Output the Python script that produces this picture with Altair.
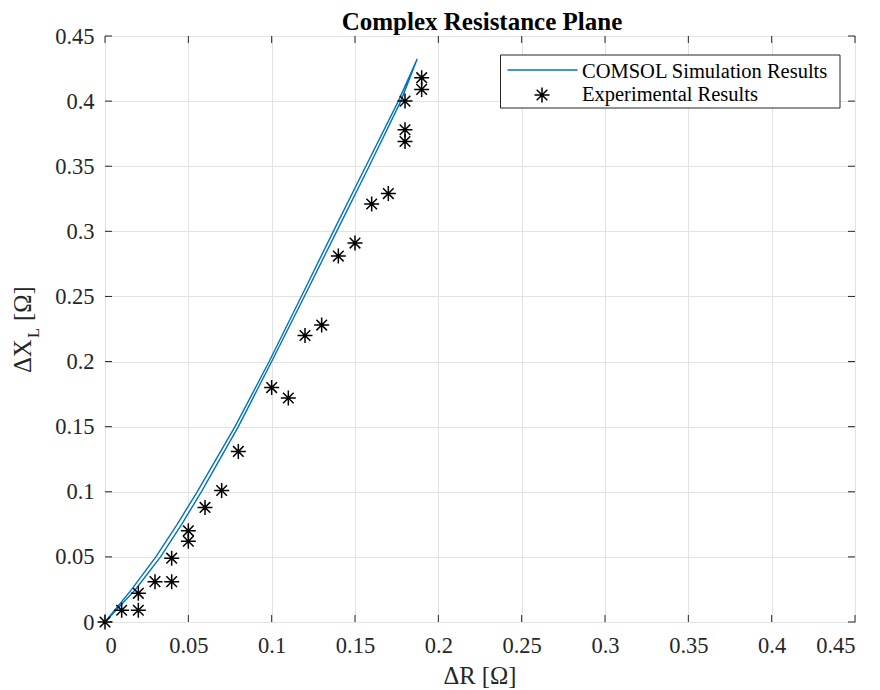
import altair as alt
import pandas as pd

# ---- data ----
exp_r = [0.00, 0.01, 0.02, 0.02, 0.03, 0.04, 0.04, 0.05, 0.05, 0.06, 0.07, 0.08,
         0.10, 0.11, 0.12, 0.13, 0.14, 0.15, 0.16, 0.17, 0.18, 0.18, 0.18, 0.19, 0.19]
exp_x = [0.000, 0.009, 0.009, 0.022, 0.031, 0.031, 0.049, 0.062, 0.070, 0.088, 0.101, 0.131,
         0.180, 0.172, 0.220, 0.228, 0.281, 0.291, 0.321, 0.329, 0.369, 0.378, 0.400, 0.409, 0.418]

# simulated loop: up along one branch, back down along the other
sim_up_r = [0.0, 0.0160, 0.0305, 0.0433, 0.0553, 0.0780, 0.0985, 0.1178, 0.1370, 0.1565, 0.1760, 0.1873]
sim_up_x = [0.0, 0.025, 0.05, 0.075, 0.10, 0.15, 0.20, 0.25, 0.30, 0.35, 0.40, 0.4324]
sim_dn_r = [0.1873, 0.1775, 0.1585, 0.1390, 0.1196, 0.1000, 0.0800, 0.0578, 0.0460, 0.0333, 0.0183, 0.0]
sim_dn_x = [0.4324, 0.40, 0.35, 0.30, 0.25, 0.20, 0.15, 0.10, 0.075, 0.05, 0.025, 0.0]

tick_vals = [0, 0.05, 0.1, 0.15, 0.2, 0.25, 0.3, 0.35, 0.4, 0.45]

title = "Complex Resistance Plane"
x_title = "ΔR [Ω]"
legend_labels = ["COMSOL Simulation Results", "Experimental Results"]

# ---- styling ----
W, H = 750, 586
FONT = "Liberation Serif"
AX = "#262626"
BLUE = "#0072BD"
ASTER = "M-1,0H1M0,-1V1M-0.7071,-0.7071L0.7071,0.7071M-0.7071,0.7071L0.7071,-0.7071"

sim_df = pd.DataFrame({
    "r": sim_up_r + sim_dn_r,
    "x": sim_up_x + sim_dn_x,
    "i": list(range(len(sim_up_r) + len(sim_dn_r))),
})
exp_df = pd.DataFrame({"r": exp_r, "x": exp_x})
tick_df = pd.DataFrame({"t": tick_vals})
one = pd.DataFrame({"a": [0]})

xscale = alt.Scale(domain=[0, 0.45], nice=False, zero=False)
yscale = alt.Scale(domain=[0, 0.45], nice=False, zero=False)

xaxis = alt.Axis(values=tick_vals, format="~g", title=None, grid=True, ticks=False, tickSize=0,
                 domain=False, labelPadding=12)
yaxis = alt.Axis(values=tick_vals, format="~g", title=None, grid=True, ticks=False, tickSize=0,
                 domain=False, labelPadding=11)

sim = alt.Chart(sim_df).mark_line(color=BLUE, strokeWidth=1.4).encode(
    x=alt.X("r:Q", scale=xscale, axis=xaxis),
    y=alt.Y("x:Q", scale=yscale, axis=yaxis),
    order="i:Q",
)

pts = alt.Chart(exp_df).mark_point(shape=ASTER, size=225, color="black", strokeWidth=1.5,
                                    filled=False, opacity=1).encode(
    x=alt.X("r:Q", scale=xscale, axis=xaxis),
    y=alt.Y("x:Q", scale=yscale, axis=yaxis),
)

tb = alt.Chart(tick_df).mark_rule(color=AX, strokeWidth=1).encode(
    x=alt.X("t:Q", scale=xscale, axis=xaxis), y=alt.value(H), y2=alt.value(H - 7))
tt = alt.Chart(tick_df).mark_rule(color=AX, strokeWidth=1).encode(
    x=alt.X("t:Q", scale=xscale, axis=xaxis), y=alt.value(0), y2=alt.value(7))
tl = alt.Chart(tick_df).mark_rule(color=AX, strokeWidth=1).encode(
    y=alt.Y("t:Q", scale=yscale, axis=yaxis), x=alt.value(0), x2=alt.value(7))
tr = alt.Chart(tick_df).mark_rule(color=AX, strokeWidth=1).encode(
    y=alt.Y("t:Q", scale=yscale, axis=yaxis), x=alt.value(W), x2=alt.value(W - 7))

# legend
lbox = alt.Chart(one).mark_rect(fill="white", stroke=AX, strokeWidth=1).encode(
    x=alt.value(395.5), x2=alt.value(735), y=alt.value(19), y2=alt.value(72))
lline = alt.Chart(one).mark_rule(color=BLUE, strokeWidth=1.4).encode(
    x=alt.value(402.5), x2=alt.value(472.5), y=alt.value(34))
lpt = alt.Chart(one).mark_point(shape=ASTER, size=225, color="black", strokeWidth=1.5,
                                filled=False, opacity=1).encode(x=alt.value(437), y=alt.value(59))
lt1 = alt.Chart(one).mark_text(text=legend_labels[0], font=FONT, fontSize=20.5, color="black",
                               align="left", baseline="middle").encode(
    x=alt.value(477), y=alt.value(35.5))
lt2 = alt.Chart(one).mark_text(text=legend_labels[1], font=FONT, fontSize=20.5, color="black",
                               align="left", baseline="middle").encode(
    x=alt.value(477), y=alt.value(59))

# y axis title with subscript
yt1 = alt.Chart(one).mark_text(text="ΔX", font=FONT, fontSize=24.6, color=AX, angle=270,
                               align="left", baseline="middle").encode(
    x=alt.value(-81), y=alt.value(337))
yt2 = alt.Chart(one).mark_text(text="L", font=FONT, fontSize=16.5, color=AX, angle=270,
                               align="left", baseline="middle").encode(
    x=alt.value(-71), y=alt.value(302))
yt3 = alt.Chart(one).mark_text(text="[Ω]", font=FONT, fontSize=24.6, color=AX, angle=270,
                               align="left", baseline="middle").encode(
    x=alt.value(-81), y=alt.value(285))

# x axis title and chart title
xt = alt.Chart(one).mark_text(text=x_title, font=FONT, fontSize=24.6, color=AX,
                              align="center", baseline="alphabetic").encode(
    x=alt.value(W / 2), y=alt.value(H + 62))
tt_ = alt.Chart(one).mark_text(text=title, font=FONT, fontSize=25, fontWeight="bold", color="black",
                               align="center", baseline="alphabetic").encode(
    x=alt.value(W / 2 + 2), y=alt.value(-6.5))

chart = alt.layer(sim, pts, tb, tt, tl, tr, lbox, lline, lpt, lt1, lt2,
                  yt1, yt2, yt3, xt, tt_).properties(
    width=W, height=H,
    autosize=alt.AutoSizeParams(type="none"),
    padding={"left": 97, "top": 28, "right": 16, "bottom": 68},
    background="white",
).configure_view(
    stroke=AX, strokeWidth=1
).configure_axis(
    labelFont=FONT, labelFontSize=22.5, labelColor=AX,
    gridColor="#e2e2e2", gridWidth=1,
)

chart.save("out.html", embed_options={"renderer": "svg", "actions": False})
